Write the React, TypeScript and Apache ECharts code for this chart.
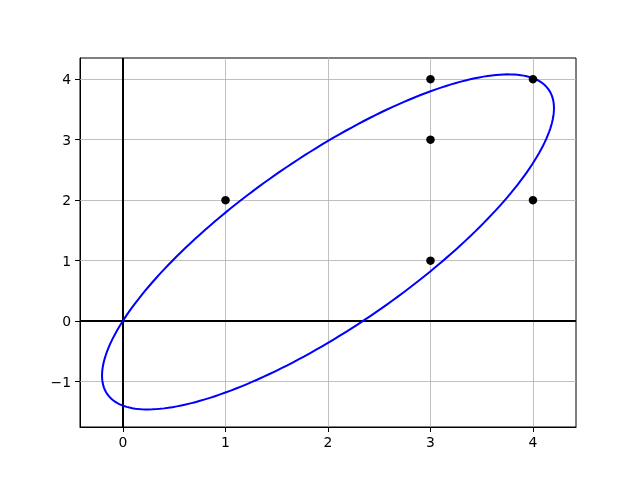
import React, { useEffect, useRef } from "react";
import * as echarts from "echarts";

const pointsX = [1, 3, 3, 3, 4, 4];
const pointsY = [2, 4, 3, 1, 4, 2];
const xTicks = [0, 1, 2, 3, 4];
const yTicks = [-1, 0, 1, 2, 3, 4];
const xLimits = [-0.42, 4.42];
const yLimits = [-1.75, 4.35];
// ellipse: centre and covariance-like shape matrix
const ellipseCenter = [2.0, 1.31];
const ellipseShape = [
  [4.862, 4.873],
  [4.873, 7.67],
];

export default function App() {
  const ref = useRef<HTMLDivElement>(null);
  useEffect(() => {
    const chart = echarts.init(ref.current!, null, { renderer: "svg" });
    const font = "DejaVu Sans";
    const l11 = Math.sqrt(ellipseShape[0][0]);
    const l21 = ellipseShape[1][0] / l11;
    const l22 = Math.sqrt(ellipseShape[1][1] - l21 * l21);
    const steps = 240;

    chart.setOption({
      animation: false,
      grid: {
        left: 80,
        right: 64,
        top: 58,
        bottom: 53,
        show: true,
        borderColor: "#000",
        borderWidth: 1,
        backgroundColor: "transparent",
      },
      xAxis: {
        type: "value",
        min: xLimits[0],
        max: xLimits[1],
        splitLine: { show: false },
        axisLine: { show: true, onZero: false, lineStyle: { color: "#000", width: 1 } },
        axisTick: { show: true, customValues: xTicks, length: 5, lineStyle: { color: "#000" } },
        axisLabel: {
          customValues: xTicks,
          color: "#000",
          fontSize: 13.9,
          fontFamily: font,
          margin: 8,
          formatter: (v: number) => String(v).replace("-", "\u2212"),
        },
      },
      yAxis: {
        type: "value",
        min: yLimits[0],
        max: yLimits[1],
        splitLine: { show: false },
        axisLine: { show: true, onZero: false, lineStyle: { color: "#000", width: 1 } },
        axisTick: { show: true, customValues: yTicks, length: 5, lineStyle: { color: "#000" } },
        axisLabel: {
          customValues: yTicks,
          color: "#000",
          fontSize: 13.9,
          fontFamily: font,
          margin: 9,
          formatter: (v: number) => String(v).replace("-", "\u2212"),
        },
      },
      series: [
        {
          type: "scatter",
          data: [],
          z: 1,
          silent: true,
          markLine: {
            silent: true,
            symbol: "none",
            z: 1,
            label: { show: false },
            emphasis: { disabled: true },
            lineStyle: { color: "#b0b0b0", width: 0.8, type: "solid", opacity: 1 },
            data: [
              ...xTicks.map((v) => ({ xAxis: v })),
              ...yTicks.map((v) => ({ yAxis: v })),
            ],
          },
        },
        {
          type: "scatter",
          data: [],
          z: 2,
          silent: true,
          markLine: {
            silent: true,
            symbol: "none",
            label: { show: false },
            z: 2,
            emphasis: { disabled: true },
            lineStyle: { color: "#000", width: 2, type: "solid", opacity: 1 },
            data: [{ xAxis: 0 }, { yAxis: 0 }],
          },
        },
        {
          type: "custom",
          z: 3,
          silent: true,
          data: [[ellipseCenter[0], ellipseCenter[1]]],
          renderItem: (params: any, api: any) => {
            const pts: number[][] = [];
            for (let i = 0; i <= steps; i++) {
              const t = (i / steps) * Math.PI * 2;
              const c = Math.cos(t);
              const s = Math.sin(t);
              const x = ellipseCenter[0] + l11 * c;
              const y = ellipseCenter[1] + l21 * c + l22 * s;
              pts.push(api.coord([x, y]));
            }
            return {
              type: "polyline",
              shape: { points: pts },
              style: { stroke: "#0000ff", lineWidth: 2, fill: "none" },
            };
          },
        },
        {
          type: "scatter",
          z: 10,
          symbol: "circle",
          symbolSize: 8.5,
          itemStyle: { color: "#000", opacity: 1 },
          data: pointsX.map((x, i) => [x, pointsY[i]]),
        },
      ],
    });
    return () => chart.dispose();
  }, []);
  return (
    <div
      ref={ref}
      style={{ position: "fixed", left: 0, top: 0, width: 640, height: 480 }}
    />
  );
}
